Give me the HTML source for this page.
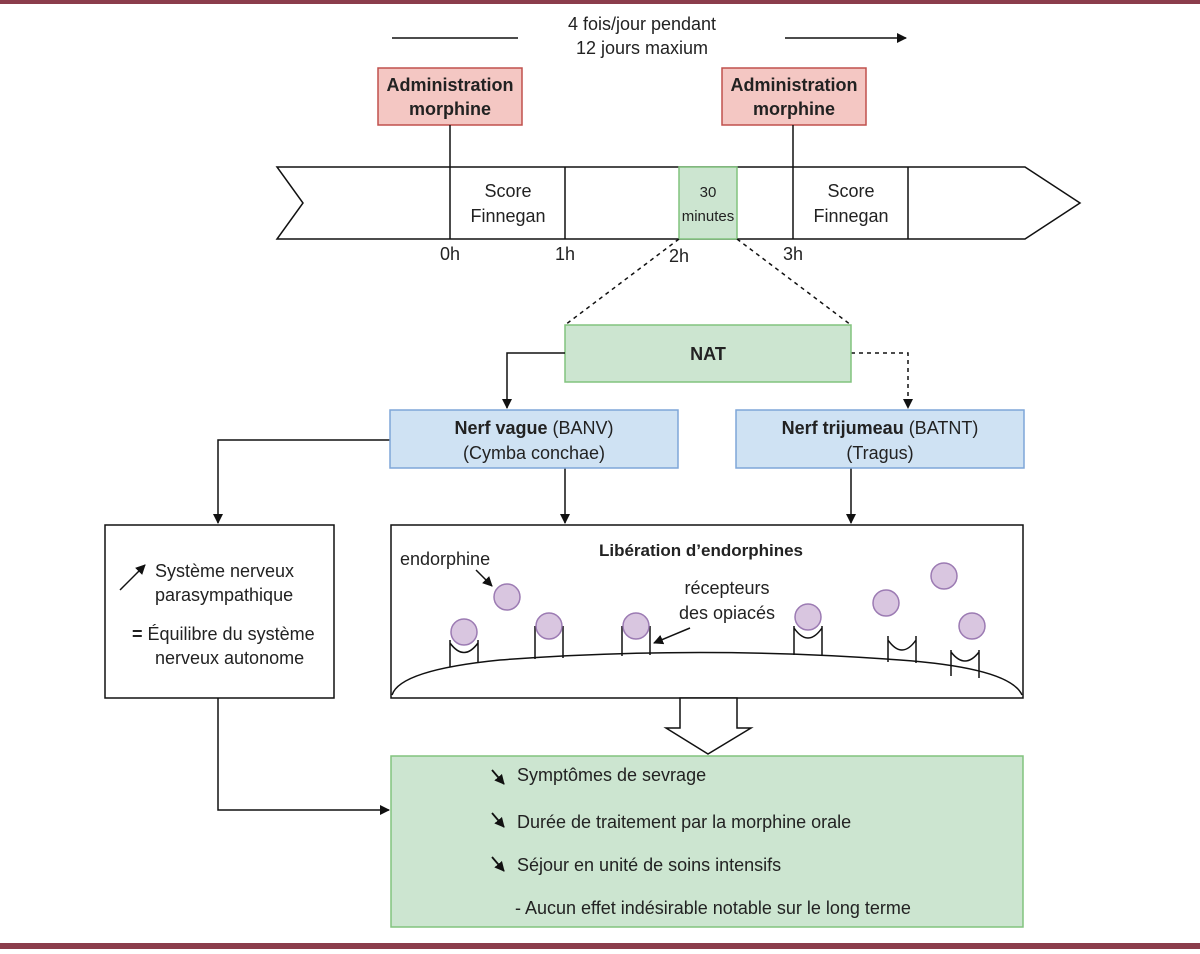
<!DOCTYPE html>
<html><head><meta charset="utf-8"><style>
body{margin:0;background:#fff}
svg text{font-family:"Liberation Sans","DejaVu Sans",sans-serif;fill:#222}
</style></head><body>
<svg width="1200" height="949" viewBox="0 0 1200 949" xmlns="http://www.w3.org/2000/svg">
<defs>
<marker id="a" markerWidth="10" markerHeight="10" refX="9" refY="5" orient="auto" markerUnits="userSpaceOnUse"><path d="M0,0 L10,5 L0,10 z" fill="#111"/></marker>
</defs>
<rect x="0" y="0" width="1200" height="4" fill="#8b3d4c"/>
<rect x="0" y="943" width="1200" height="6" fill="#8b3d4c"/>
<g stroke="#111" stroke-width="1.5" fill="none">
<line x1="392" y1="38" x2="518" y2="38"/>
<line x1="785" y1="38" x2="906" y2="38" marker-end="url(#a)"/>
</g>
<text x="642" y="30" font-size="18" text-anchor="middle">4 fois/jour pendant</text>
<text x="642" y="54" font-size="18" text-anchor="middle">12 jours maxium</text>
<rect x="378" y="68" width="144" height="57" fill="#f4c7c3" stroke="#c0504d" stroke-width="1.5"/>
<rect x="722" y="68" width="144" height="57" fill="#f4c7c3" stroke="#c0504d" stroke-width="1.5"/>
<text x="450" y="91" font-size="18" font-weight="bold" text-anchor="middle">Administration</text>
<text x="450" y="115" font-size="18" font-weight="bold" text-anchor="middle">morphine</text>
<text x="794" y="91" font-size="18" font-weight="bold" text-anchor="middle">Administration</text>
<text x="794" y="115" font-size="18" font-weight="bold" text-anchor="middle">morphine</text>
<polygon points="277,167 1025,167 1080,203 1025,239 277,239 303,203" fill="#fff" stroke="#111" stroke-width="1.5"/>
<rect x="679" y="167" width="58" height="72" fill="#cce5d0" stroke="#82c37e" stroke-width="1.5"/>
<g stroke="#111" stroke-width="1.5">
<line x1="450" y1="125" x2="450" y2="239"/><line x1="565" y1="167" x2="565" y2="239"/>
<line x1="793" y1="125" x2="793" y2="239"/><line x1="908" y1="167" x2="908" y2="239"/>
</g>
<text x="508" y="197" font-size="18" text-anchor="middle">Score</text>
<text x="508" y="222" font-size="18" text-anchor="middle">Finnegan</text>
<text x="851" y="197" font-size="18" text-anchor="middle">Score</text>
<text x="851" y="222" font-size="18" text-anchor="middle">Finnegan</text>
<text x="708" y="197" font-size="15" text-anchor="middle">30</text>
<text x="708" y="221" font-size="15" text-anchor="middle">minutes</text>
<text x="450" y="260" font-size="18" text-anchor="middle">0h</text>
<text x="565" y="260" font-size="18" text-anchor="middle">1h</text>
<text x="679" y="262" font-size="18" text-anchor="middle">2h</text>
<text x="793" y="260" font-size="18" text-anchor="middle">3h</text>
<g stroke="#111" stroke-width="1.5" stroke-dasharray="4,4" fill="none">
<line x1="679" y1="239" x2="565" y2="325"/><line x1="737" y1="239" x2="851" y2="325"/>
<polyline points="851,353 908,353 908,408" marker-end="url(#a)"/>
</g>
<rect x="565" y="325" width="286" height="57" fill="#cce5d0" stroke="#82c37e" stroke-width="1.5"/>
<text x="708" y="360" font-size="18" font-weight="bold" text-anchor="middle">NAT</text>
<g stroke="#111" stroke-width="1.5" fill="none">
<polyline points="565,353 507,353 507,408" marker-end="url(#a)"/>
<polyline points="390,440 218,440 218,523" marker-end="url(#a)"/>
<line x1="565" y1="468" x2="565" y2="523" marker-end="url(#a)"/>
<line x1="851" y1="468" x2="851" y2="523" marker-end="url(#a)"/>
<polyline points="218,698 218,810 389,810" marker-end="url(#a)"/>
</g>
<rect x="390" y="410" width="288" height="58" fill="#cfe2f3" stroke="#7ea6d8" stroke-width="1.5"/>
<rect x="736" y="410" width="288" height="58" fill="#cfe2f3" stroke="#7ea6d8" stroke-width="1.5"/>
<text x="534" y="434" font-size="18" text-anchor="middle"><tspan font-weight="bold">Nerf vague</tspan> (BANV)</text>
<text x="534" y="459" font-size="18" text-anchor="middle">(Cymba conchae)</text>
<text x="880" y="434" font-size="18" text-anchor="middle"><tspan font-weight="bold">Nerf trijumeau</tspan> (BATNT)</text>
<text x="880" y="459" font-size="18" text-anchor="middle">(Tragus)</text>
<rect x="105" y="525" width="229" height="173" fill="#fff" stroke="#111" stroke-width="1.5"/>
<line x1="120" y1="590" x2="145" y2="565" stroke="#111" stroke-width="1.5" marker-end="url(#a)"/>
<text x="155" y="577" font-size="18">Système nerveux</text>
<text x="155" y="601" font-size="18">parasympathique</text>
<text x="132" y="640" font-size="18"><tspan font-weight="bold">=</tspan> Équilibre du système</text>
<text x="155" y="664" font-size="18">nerveux autonome</text>
<rect x="391" y="525" width="632" height="173" fill="#fff" stroke="#111" stroke-width="1.5"/>
<text x="701" y="556" font-size="17" font-weight="bold" text-anchor="middle">Libération d’endorphines</text>
<path d="M392,695 Q400,670 500,660 Q700,645 900,660 Q1010,668 1022,695" fill="none" stroke="#111" stroke-width="1.5"/>
<g stroke="#111" stroke-width="1.5" fill="none">
<path d="M450,667 L450,640 M478,662 L478,640 M450,643 Q464,662 478,643"/>
<path d="M535,659 L535,626 M563,658 L563,626"/>
<path d="M622,656 L622,626 M650,655 L650,626"/>
<path d="M794,655 L794,626 M822,656 L822,626 M794,628 Q808,648 822,628"/>
<path d="M888,662 L888,636 M916,663 L916,636 M888,640 Q902,660 916,640"/>
<path d="M951,676 L951,650 M979,678 L979,650 M951,652 Q965,670 979,652"/>
<line x1="476" y1="570" x2="492" y2="586" marker-end="url(#a)"/>
<line x1="690" y1="628" x2="654" y2="643" marker-end="url(#a)"/>
</g>
<g fill="#d9c6e0" stroke="#9c7bb3" stroke-width="1.5">
<circle cx="507" cy="597" r="13"/><circle cx="464" cy="632" r="13"/><circle cx="549" cy="626" r="13"/>
<circle cx="636" cy="626" r="13"/><circle cx="808" cy="617" r="13"/><circle cx="886" cy="603" r="13"/>
<circle cx="944" cy="576" r="13"/><circle cx="972" cy="626" r="13"/>
</g>
<text x="400" y="565" font-size="18">endorphine</text>
<text x="727" y="594" font-size="18" text-anchor="middle">récepteurs</text>
<text x="727" y="619" font-size="18" text-anchor="middle">des opiacés</text>
<polygon points="680,698 737,698 737,728 751,728 708,754 666,728 680,728" fill="#fff" stroke="#111" stroke-width="1.5"/>
<rect x="391" y="756" width="632" height="171" fill="#cce5d0" stroke="#82c37e" stroke-width="1.5"/>
<g stroke="#111" stroke-width="1.8" fill="none">
<line x1="492" y1="770" x2="504" y2="784" marker-end="url(#a)"/>
<line x1="492" y1="813" x2="504" y2="827" marker-end="url(#a)"/>
<line x1="492" y1="857" x2="504" y2="871" marker-end="url(#a)"/>
</g>
<text x="517" y="781" font-size="18">Symptômes de sevrage</text>
<text x="517" y="828" font-size="18">Durée de traitement par la morphine orale</text>
<text x="517" y="871" font-size="18">Séjour en unité de soins intensifs</text>
<text x="515" y="914" font-size="18">- Aucun effet indésirable notable sur le long terme</text>
</svg>
</body></html>
